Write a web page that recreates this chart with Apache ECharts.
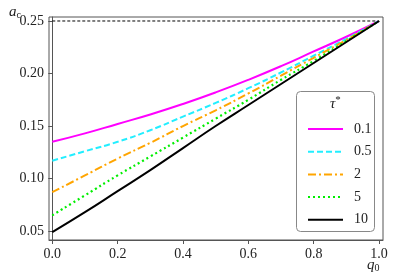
<!DOCTYPE html>
<html><head><meta charset="utf-8">
<script src="https://cdn.jsdelivr.net/npm/echarts@6/dist/echarts.min.js"></script>
<style>html,body{margin:0;padding:0;background:#fff}#c{width:395px;height:276px}</style>
</head><body><div id="c"></div>
<script>
const q0 = [0,0.1,0.2,0.3,0.4,0.5,0.6,0.7,0.8,0.9,1.0];
const tauLabels = ['0.1','0.5','2','5','10'];
const a_tau01 = [0.135,0.143,0.152,0.161,0.171,0.182,0.194,0.207,0.221,0.235,0.25];
const a_tau05 = [0.117,0.126,0.135,0.146,0.159,0.172,0.186,0.201,0.217,0.233,0.25];
const a_tau2  = [0.087,0.103,0.119,0.134,0.150,0.165,0.181,0.198,0.215,0.232,0.25];
const a_tau5  = [0.065,0.084,0.103,0.121,0.139,0.157,0.175,0.194,0.212,0.231,0.25];
const a_tau10 = [0.049,0.068,0.088,0.108,0.129,0.150,0.170,0.190,0.210,0.230,0.25];
const refLevel = 0.25;
const xTicks = [0,0.2,0.4,0.6,0.8,1.0];
const yTicks = [0.05,0.10,0.15,0.20,0.25];

const font = 'Liberation Serif';
const seriesVals = [a_tau01,a_tau05,a_tau2,a_tau5,a_tau10];
const styles = [
  {color:'#ff00ff', type:'solid', width:2},
  {color:'#22eeff', type:[6,3], width:2},
  {color:'#ffa500', type:[8,3,2,3], width:2},
  {color:'#00ee00', type:[2,3], width:2.2},
  {color:'#000000', type:'solid', width:2}
];
const series = seriesVals.map((vals,i)=>({
  name: tauLabels[i], type:'line', symbol:'none', smooth:true,
  data: q0.map((x,j)=>[x,vals[j]]),
  lineStyle:{color:styles[i].color,type:styles[i].type,width:styles[i].width},
  itemStyle:{color:styles[i].color}, z:3
}));
series.push({name:'ref', type:'line', symbol:'none', data:[[0,refLevel],[1,refLevel]],
  lineStyle:{color:'#000',type:[3,2],width:1}, z:2});

const chart = echarts.init(document.getElementById('c'));
chart.setOption({
  animation:false,
  grid:{left:49,right:12,top:17,bottom:36,show:true,borderColor:'#555',borderWidth:1},
  xAxis:{type:'value',min:-0.01,max:1.012,
    axisLine:{show:true,lineStyle:{color:'#555'}},
    axisTick:{show:true,length:4,customValues:xTicks,lineStyle:{color:'#555'}},
    axisLabel:{customValues:xTicks,fontFamily:font,fontSize:14,color:'#222',margin:7,
      formatter:v=>v.toFixed(1)},
    splitLine:{show:false}},
  yAxis:{type:'value',min:0.0415,max:0.2538,
    axisLine:{show:true,lineStyle:{color:'#555'}},
    axisTick:{show:true,length:4,customValues:yTicks,lineStyle:{color:'#555'}},
    axisLabel:{customValues:yTicks,fontFamily:font,fontSize:14,color:'#222',margin:5,
      formatter:v=>v.toFixed(2)},
    splitLine:{show:false}},
  legend:{data:tauLabels,orient:'vertical',left:302,top:117,itemWidth:35,itemHeight:14,itemGap:8.7,
    z:20,itemStyle:{opacity:0},
    textStyle:{fontFamily:font,fontSize:14,color:'#222',padding:[0,0,0,6]}},
  graphic:[
    {type:'rect',z:1,shape:{x:296.5,y:91.5,width:78,height:140,r:4},style:{fill:'#fff',stroke:'#888',lineWidth:1}},
    {type:'text',x:330,y:95,z:11,style:{text:'{t|τ}{s|*}',rich:{t:{fontFamily:font,fontStyle:'italic',fontSize:15,fill:'#222'},s:{fontFamily:font,fontSize:11,fill:'#222',verticalAlign:'top',padding:[0,0,8,0]}}}},
    {type:'text',x:9,y:4,z:11,style:{text:'{a|a}{c|c}',rich:{a:{fontFamily:font,fontStyle:'italic',fontSize:15,fill:'#222'},c:{fontFamily:font,fontSize:10,fill:'#222',padding:[6,0,0,0]}}}},
    {type:'text',x:367,y:257,z:11,style:{text:'{a|q}{c|0}',rich:{a:{fontFamily:font,fontStyle:'italic',fontSize:15,fill:'#222'},c:{fontFamily:font,fontSize:10,fill:'#222',padding:[6,0,0,0]}}}}
  ],
  series:series
});
</script></body></html>
